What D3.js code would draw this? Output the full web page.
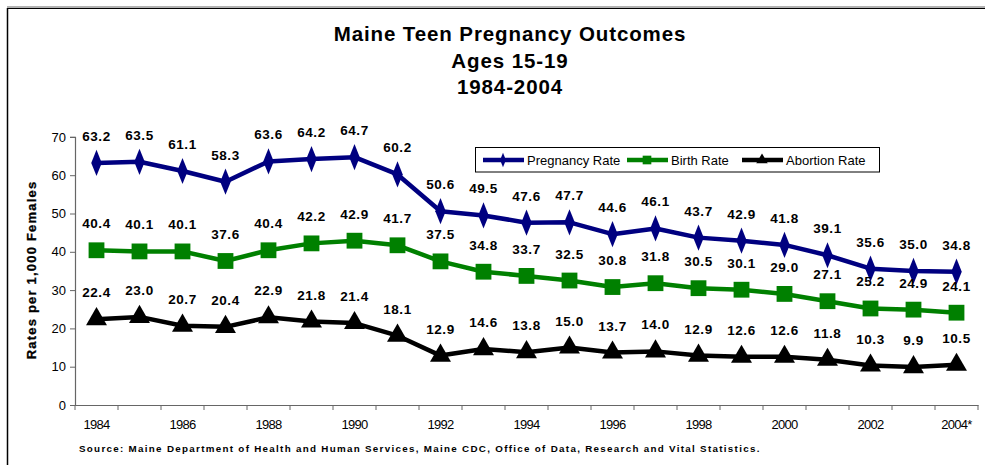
<!DOCTYPE html>
<html><head><meta charset="utf-8">
<script src="https://cdn.jsdelivr.net/npm/d3@7"></script>
<style>body{margin:0;background:#fff}svg{display:block}</style>
</head><body><svg id="c" width="985" height="465"></svg>
<script>
const years = ["1984","1985","1986","1987","1988","1989","1990","1991","1992","1993","1994","1995","1996","1997","1998","1999","2000","2001","2002","2003","2004*"];
const tickLabels = ["1984","1986","1988","1990","1992","1994","1996","1998","2000","2002","2004*"];
const pregnancy = [63.2,63.5,61.1,58.3,63.6,64.2,64.7,60.2,50.6,49.5,47.6,47.7,44.6,46.1,43.7,42.9,41.8,39.1,35.6,35.0,34.8];
const birth = [40.4,40.1,40.1,37.6,40.4,42.2,42.9,41.7,37.5,34.8,33.7,32.5,30.8,31.8,30.5,30.1,29.0,27.1,25.2,24.9,24.1];
const abortion = [22.4,23.0,20.7,20.4,22.9,21.8,21.4,18.1,12.9,14.6,13.8,15.0,13.7,14.0,12.9,12.6,12.6,11.8,10.3,9.9,10.5];
const yTicks = [0,10,20,30,40,50,60,70];
const seriesNames = ["Pregnancy Rate","Birth Rate","Abortion Rate"];

const svg = d3.select("#c");
const F = "Arial, 'Liberation Sans', sans-serif";
// frame
svg.append("line").attr("x1",7).attr("x2",985).attr("y1",7).attr("y2",7).attr("stroke","#999").attr("stroke-width",1.5);
svg.append("line").attr("x1",7).attr("x2",985).attr("y1",8.5).attr("y2",8.5).attr("stroke","#000").attr("stroke-width",1.2);
svg.append("line").attr("x1",7.5).attr("x2",7.5).attr("y1",8).attr("y2",465).attr("stroke","#000").attr("stroke-width",1.5);

// title
const titles = ["Maine Teen Pregnancy Outcomes","Ages 15-19","1984-2004"];
svg.selectAll("text.title").data(titles).join("text").attr("class","title")
  .attr("x",510).attr("y",(d,i)=>41+i*26.5).attr("text-anchor","middle")
  .attr("font-family",F).attr("font-weight","bold").attr("font-size",20.5).attr("letter-spacing",0.9).text(d=>d);

const x = d3.scaleBand().domain(years).range([75,978]);
const y = d3.scaleLinear().domain([0,70]).range([405,136.9]);
const xc = d => x(d)+x.bandwidth()/2;

// y axis
const ya = svg.append("g").attr("transform","translate(75,0)")
  .call(d3.axisLeft(y).tickValues(yTicks).tickSize(5).tickPadding(4).tickFormat(d3.format("d")));
ya.select(".domain").attr("stroke","#666").attr("stroke-width",1.2);
ya.selectAll(".tick line").attr("stroke","#666");
ya.selectAll("text").attr("font-family",F).attr("font-size",13).attr("fill","#000");

// x axis
const xa = svg.append("g").attr("transform","translate(0,405)")
  .call(d3.axisBottom(x).tickSize(0).tickFormat(""));
xa.select(".domain").attr("stroke","#666").attr("stroke-width",1.2);
xa.selectAll(".tick").remove();
const bounds = years.map(d=>x(d)).concat([978]);
svg.selectAll("line.xt").data(bounds).join("line").attr("class","xt")
  .attr("x1",d=>d).attr("x2",d=>d).attr("y1",405).attr("y2",410).attr("stroke","#666");
svg.selectAll("text.xl").data(tickLabels).join("text").attr("class","xl")
  .attr("x",d=>xc(d)).attr("y",429).attr("text-anchor","middle")
  .attr("font-family","'Liberation Sans Narrow', 'Arial Narrow', Arial, sans-serif").attr("font-size",13)
  .attr("letter-spacing",-0.7).text(d=>d);

// y label
svg.append("text").attr("transform","translate(36,270) rotate(-90)").attr("text-anchor","middle")
  .attr("font-family",F).attr("font-weight","bold").attr("font-size",13).attr("letter-spacing",1.2)
  .attr("stroke","#000").attr("stroke-width",0.3)
  .text("Rates per 1,000 Females");

// source
svg.append("text").attr("x",79).attr("y",452).attr("font-family",F).attr("font-weight","bold")
  .attr("font-size",9.8).attr("letter-spacing",1.3)
  .text("Source: Maine Department of Health and Human Services, Maine CDC, Office of Data, Research and Vital Statistics.");

const series = [
  {name:seriesNames[0], values:pregnancy, color:"#000080", sym:d3.symbolDiamond, size:150},
  {name:seriesNames[1], values:birth, color:"#008000", sym:d3.symbolSquare, size:250},
  {name:seriesNames[2], values:abortion, color:"#000000", sym:d3.symbolTriangle, size:190}
];
const line = d3.line().x((d,i)=>xc(years[i])).y(d=>y(d));
series.forEach(s=>{
  svg.append("path").attr("d",line(s.values)).attr("fill","none").attr("stroke",s.color).attr("stroke-width",4.5).attr("stroke-linejoin","round");
  svg.selectAll(null).data(s.values).join("path")
    .attr("transform",(d,i)=>`translate(${xc(years[i])},${y(d)})`+(s.sym===d3.symbolDiamond?" scale(0.8,1.15)":""))
    .attr("d",d3.symbol().type(s.sym).size(s.size)).attr("fill",s.color);
  svg.selectAll(null).data(s.values).join("text")
    .attr("x",(d,i)=>xc(years[i])).attr("y",d=>y(d)-22).attr("text-anchor","middle")
    .attr("font-family",F).attr("font-weight","bold").attr("font-size",13.5).attr("letter-spacing",0.6)
    .text(d=>d.toFixed(1));
});

// legend
const lg = svg.append("g");
lg.append("rect").attr("x",475.5).attr("y",147.5).attr("width",404).attr("height",24.5).attr("fill","#fff").attr("stroke","#000").attr("stroke-width",1);
const lx = [483, 627, 742];
series.forEach((s,i)=>{
  const g = lg.append("g").attr("transform",`translate(${lx[i]},160)`);
  g.append("line").attr("x1",0).attr("x2",41).attr("stroke",s.color).attr("stroke-width",4.5);
  g.append("path").attr("transform","translate(20,0)"+(s.sym===d3.symbolDiamond?" scale(0.8,1.15)":"")).attr("d",d3.symbol().type(s.sym).size(s.size*0.3)).attr("fill",s.color);
  g.append("text").attr("x",44).attr("y",5).attr("font-family",F).attr("font-size",13).attr("letter-spacing",0).text(s.name);
});
</script></body></html>
